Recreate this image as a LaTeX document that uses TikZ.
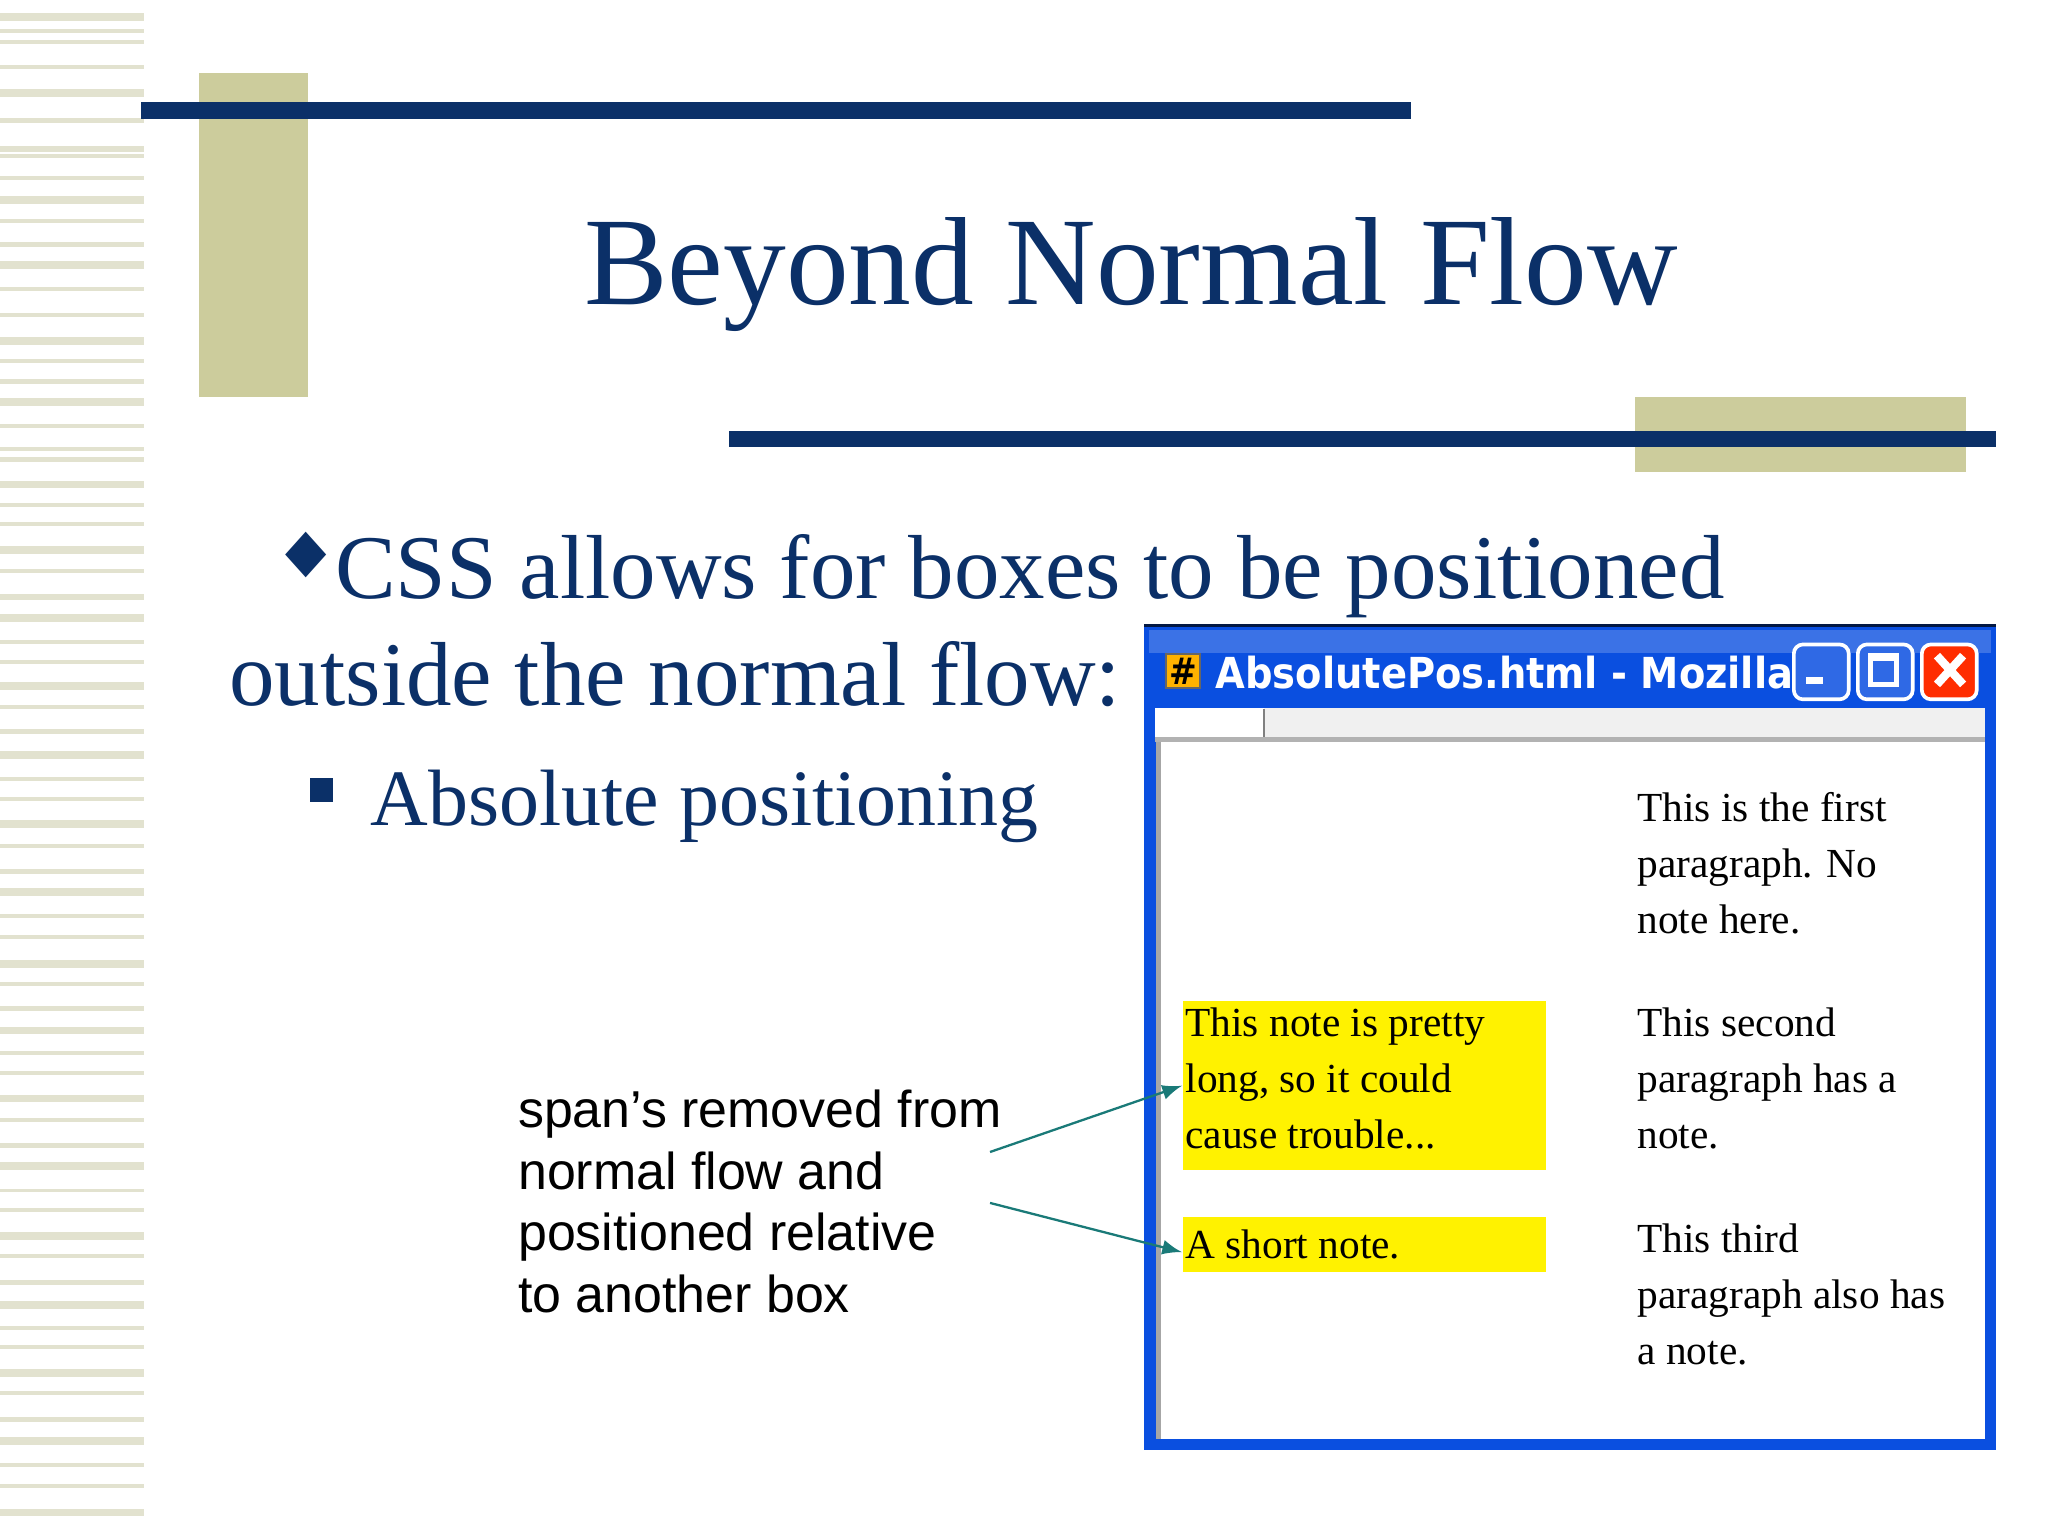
\documentclass[tikz,border=0pt]{standalone}
\usepackage{fontspec}
\setmainfont{Liberation Serif}
\newfontfamily\sansf{Liberation Sans}
\newfontfamily\barf{DejaVu Sans Condensed}
\definecolor{navy}{HTML}{0B3068}
\definecolor{tan}{HTML}{CCCC9C}
\definecolor{stripe}{HTML}{E2E2CF}
\definecolor{xpblue}{HTML}{0A4FE0}
\definecolor{teal}{HTML}{1A7A78}
\tikzset{x=0.01cm,y=-0.01cm,
 wtext/.style={anchor=north west,align=left,font=\fontsize{9}{12.2}\selectfont,inner sep=0pt},
 ann/.style={-latex,teal,line width=0.5pt},
 xpbtn/.style={draw=white,rounded corners=2pt,minimum width=0.42cm,minimum height=0.42cm,inner sep=0pt,line width=0.8pt,anchor=north west}}
\begin{document}
\begin{tikzpicture}
\useasboundingbox (0,0) rectangle (1568,1176);
\fill[white] (0,0) rectangle (1568,1176);
% left stripes
\foreach \y/\h in {10/6,22/3,31/3,50/3,68/6,90/4,112/4,118/3,135/3,150/6,168/3,185/4,200/6,220/3,240/3,258/6,275/3,290/4,305/6,325/3,342/3,350/4,368/6,385/3,400/3,418/6,436/3,455/4,470/6,490/3,505/3,522/6,540/3,558/4,575/6,595/3,610/3,628/6,646/3,665/4,680/6,700/3,716/3,735/6,752/3,770/4,786/6,805/3,820/3,838/6,856/3,875/4,890/6,910/3,925/3,943/6,960/3,980/4,996/6,1015/3,1030/3,1048/6,1065/3,1085/4,1100/6,1120/3,1136/3,1155/6}
  \fill[stripe] (0,\y) rectangle (110,\y+\h);
% decorations
\fill[tan] (152,56) rectangle (236,304);
\fill[navy] (108,78) rectangle (1080,91);
\fill[tan] (1252,304) rectangle (1505,361);
\fill[navy] (558,330) rectangle (1528,342);
\node[anchor=base,text=navy,font=\fontsize{27.3}{30}\selectfont,inner sep=0pt] (title) at (866,233) {Beyond Normal Flow};
\node[anchor=base west,text=navy,font=\fontsize{13}{13}\selectfont,inner sep=0pt] (d1) at (218,437) {\barf◆};
\node[anchor=base west,text=navy,font=\fontsize{19.8}{24}\selectfont,inner sep=0pt] (l1) at (256,458) {CSS allows for boxes to be positioned};
\node[anchor=base west,text=navy,font=\fontsize{19.8}{24}\selectfont,inner sep=0pt] (l2) at (175,540) {outside the normal flow:};
\fill[navy] (237,596) rectangle (255,614);
\node[anchor=base west,text=navy,font=\fontsize{17.4}{22}\selectfont,inner sep=0pt] (l3) at (283,632) {Absolute positioning};
% annotation
\node[anchor=north west,align=left,font=\sansf\fontsize{11.3}{13.4}\selectfont,inner sep=0pt] (ann) at (396,834) {span’s removed from\\normal flow and\\positioned relative\\to another box};
\coordinate (a1) at (758,882);
\coordinate (a2) at (758,921);
% window
\fill[xpblue] (876,478) rectangle (1528,1110);
\fill[xpblue!80!white] (880,482) rectangle (1524,500);
\fill[xpblue!30!black] (876,478) rectangle (1528,480);
\fill[gray!12] (884,542) rectangle (1520,566);
\fill[white] (884,542) rectangle (968,564);
\draw[gray] (968,543) -- (968,564);
\fill[gray!60] (884,564) rectangle (1520,568);
\fill[white] (886,568) rectangle (1520,1102);
\draw[gray!70,line width=1.2pt] (887,568) -- (887,1102);
\node[anchor=west,text=white,font=\barf\bfseries\fontsize{9.3}{11}\selectfont,inner sep=0pt] (wt) at (930,515) {AbsolutePos.html - Mozilla};
\node[fill=orange!60!yellow,draw=black!60,minimum size=0.26cm,inner sep=0pt,font=\barf\bfseries\fontsize{8}{8}\selectfont] (icon) at (906,514) {\#};
\node[xpbtn,fill=xpblue!85!white] (bmin) at (1372,492) {};
\node[xpbtn,fill=xpblue!85!white] (bmax) at (1421,492) {};
\node[xpbtn,fill=red!65!orange] (bcls) at (1470,492) {};
\fill[white] (1383,518) rectangle (1396,524);
\draw[white,line width=1pt] (1432,502) rectangle (1452,524);
\fill[white] (1432,502) rectangle (1452,506);
\draw[white,line width=1.8pt] (1483,502) -- (1503,524) (1503,502) -- (1483,524);
% contents
\node[wtext] (p1) at (1253,606) {This is the first\\paragraph. No\\note here.};
\node[wtext] (p2) at (1253,771) {This second\\paragraph has a\\note.};
\node[wtext] (p3) at (1253,936) {This third\\paragraph also has\\a note.};
\node[fill=yellow,anchor=north west,inner sep=0pt,minimum width=2.78cm,minimum height=1.29cm] (n1) at (905,766) {};
\node[wtext] (t1) at (907,771) {This note is pretty\\long, so it could\\cause trouble...};
\node[fill=yellow,anchor=north west,inner sep=0pt,minimum width=2.78cm,minimum height=0.42cm] (n2) at (905,931) {};
\node[wtext,anchor=west] (t2) at (907,953) {A short note.};
\draw[ann] (a1) -- (n1.west);
\draw[ann] (a2) -- ([yshift=-0.06cm]n2.west);
\end{tikzpicture}
\end{document}
